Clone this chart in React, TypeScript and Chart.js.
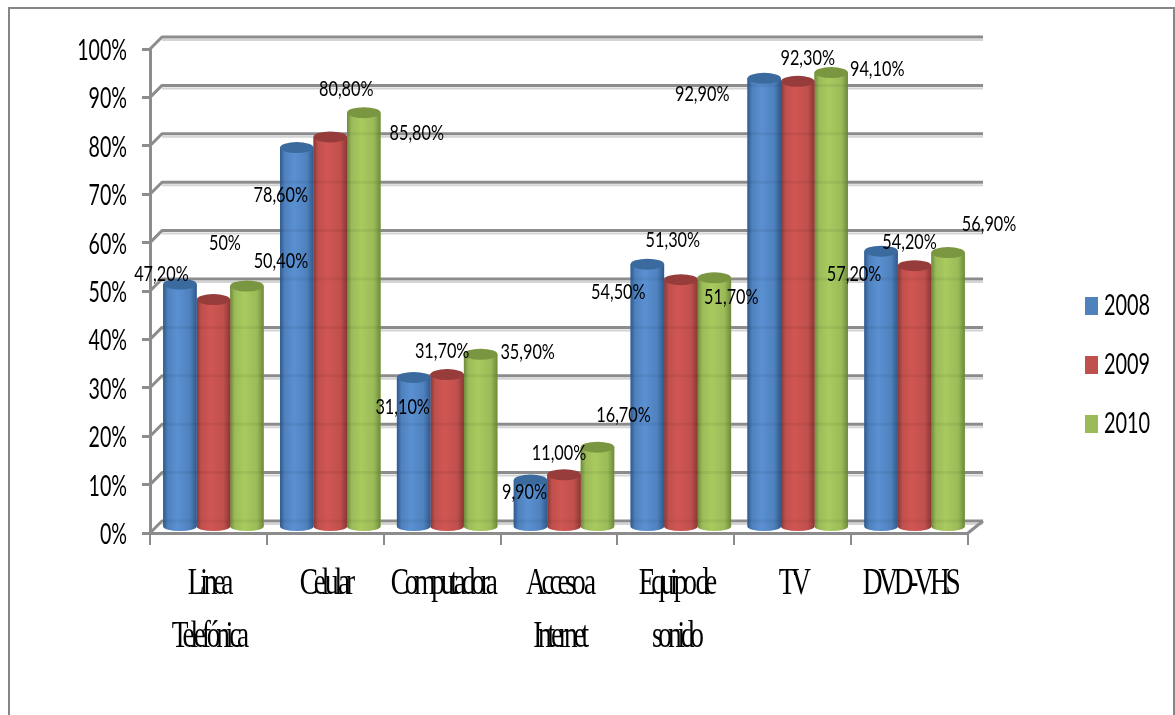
import React, { useEffect, useRef } from "react";
import { Chart, registerables } from "chart.js";

Chart.register(...registerables);

const categories = [
  ["Linea", "Telefónica"],
  "Celular",
  "Computadora",
  ["Acceso a", "Internet"],
  ["Equipo de", "sonido"],
  "TV",
  "DVD-VHS",
];
const series2008 = [50.4, 78.6, 31.1, 9.9, 54.5, 92.9, 57.2];
const series2009 = [47.2, 80.8, 31.7, 11.0, 51.3, 92.3, 54.2];
const series2010 = [50, 85.8, 35.9, 16.7, 51.7, 94.1, 56.9];
const text2008 = ["50,40%", "78,60%", "31,10%", "9,90%", "54,50%", "92,90%", "57,20%"];
const text2009 = ["47,20%", "80,80%", "31,70%", "11,00%", "51,30%", "92,30%", "54,20%"];
const text2010 = ["50%", "85,80%", "35,90%", "16,70%", "51,70%", "94,10%", "56,90%"];

const labelOffsets = [
  [[106, -28], [-11, 42], [-6, 24], [-1, 7], [-24, 23], [-57, 11], [-22, 18]],
  [[-47, -31], [21, -53], [0, -29], [0, -27], [-3, -45], [15, -28], [0, -29]],
  [[-17, -48], [58, 15], [52, -7], [31, -37], [22, 14], [51, -9], [46, -34]],
];
const seriesText = [text2008, text2009, text2010];
const palette = [
  { base: "#4F81BD", edge: "#2F5A8C", light: "#5A90D2", cap: "#3A6A9E" },
  { base: "#C0504D", edge: "#8A3836", light: "#D05653", cap: "#963C3A" },
  { base: "#9BBB59", edge: "#6F8A3C", light: "#A8CA5E", cap: "#7A9640" },
];

const DEPTH_X = 5;
const DEPTH_Y = -5;
const WALL_X = 12;
const WALL_Y = -12;
const GREY = "#8C8C8C";
const SANS = "Lato, sans-serif";

function squeezed(ctx: any, sx: number, spacing: string, draw: () => void, dx = 0) {
  const original = ctx.fillText;
  ctx.fillText = function (text: string, x: number, y: number) {
    ctx.save();
    ctx.translate(x + dx, y);
    ctx.scale(sx, 1);
    ctx.letterSpacing = spacing;
    original.call(ctx, text, 0, 0);
    ctx.restore();
  };
  draw();
  delete ctx.fillText;
}

function squeezeScale(scale: any, sx: number, spacing: string) {
  if (scale.__squeezed) return;
  scale.__squeezed = true;
  const original = scale.drawLabels;
  scale.drawLabels = function (area: any) {
    squeezed(this.ctx, sx, spacing, () => original.call(this, area));
  };
}

const plugin3d = {
  id: "plugin3d",
  beforeLayout(chart: any) {
    const legend = chart.legend;
    if (legend && !legend.__patched) {
      legend.__patched = true;
      const fit = legend.fit;
      legend.fit = function () {
        fit.call(this);
        this.width = 207;
      };
      const draw = legend.draw;
      legend.draw = function () {
        squeezed(this.ctx, 0.71, "0px", () => draw.call(this), -2);
      };
    }
  },
  afterLayout(chart: any) {
    const l = chart.legend;
    const h = l.height;
    l.left = 1091 - l.options.labels.padding;
    l.right = l.left + l.width;
    l.top = 292 - l.options.labels.padding;
    l.bottom = l.top + h;
  },
  beforeDraw(chart: any) {
    const { ctx } = chart;
    ctx.save();
    ctx.fillStyle = "#FFFFFF";
    ctx.fillRect(0, 0, chart.width, chart.height);
    ctx.strokeStyle = "#868686";
    ctx.lineWidth = 2;
    ctx.strokeRect(9, 8, 1165, 800);
    ctx.restore();
  },
  beforeDatasetsDraw(chart: any) {
    const { ctx, chartArea } = chart;
    const y = chart.scales.y;
    ctx.save();
    ctx.lineJoin = "round";
    y.ticks.forEach((t: any) => {
      const py = y.getPixelForValue(t.value);
      ctx.strokeStyle = "#D4D4D4";
      ctx.lineWidth = 2;
      ctx.beginPath();
      ctx.moveTo(chartArea.left + WALL_X, py + WALL_Y + 3);
      ctx.lineTo(chartArea.right + WALL_X + 3, py + WALL_Y + 3);
      ctx.stroke();
      ctx.strokeStyle = GREY;
      ctx.lineWidth = 3;
      ctx.beginPath();
      ctx.moveTo(chartArea.left, py);
      ctx.lineTo(chartArea.left + WALL_X, py + WALL_Y);
      ctx.lineTo(chartArea.right + WALL_X + 3, py + WALL_Y);
      ctx.stroke();
    });
    const py0 = y.getPixelForValue(0);
    ctx.strokeStyle = GREY;
    ctx.lineWidth = 3;
    ctx.beginPath();
    ctx.moveTo(chartArea.right, py0);
    ctx.lineTo(chartArea.right + WALL_X + 3, py0 + WALL_Y);
    ctx.stroke();
    ctx.restore();
  },
  beforeDatasetDraw(chart: any) {
    chart.ctx.save();
    chart.ctx.translate(DEPTH_X, DEPTH_Y);
  },
  afterDatasetDraw(chart: any, args: any) {
    const { ctx } = chart;
    const p = palette[args.index];
    const yScale = chart.scales.y;
    args.meta.data.forEach((bar: any) => {
      const { x, y, base, width } = bar;
      const l = x - width / 2;
      const r = x + width / 2;
      const ry = 5.5;
      const g = ctx.createLinearGradient(l, 0, r, 0);
      g.addColorStop(0, p.edge);
      g.addColorStop(0.14, p.base);
      g.addColorStop(0.42, p.light);
      g.addColorStop(0.8, p.base);
      g.addColorStop(1, p.edge);
      ctx.fillStyle = g;
      ctx.beginPath();
      ctx.moveTo(l, y);
      ctx.lineTo(l, base);
      ctx.ellipse(x, base, width / 2, ry - 1, 0, Math.PI, 0, true);
      ctx.lineTo(r, y);
      ctx.closePath();
      ctx.fill();
      // faint show-through of the wall lines behind the cylinder
      ctx.strokeStyle = "rgba(0,0,0,0.05)";
      ctx.lineWidth = 3;
      yScale.ticks.forEach((t: any) => {
        const py = yScale.getPixelForValue(t.value) + WALL_Y - DEPTH_Y;
        if (py > y + ry && py < base) {
          ctx.beginPath();
          ctx.moveTo(l, py);
          ctx.lineTo(r, py);
          ctx.stroke();
        }
      });
      ctx.fillStyle = p.cap;
      ctx.beginPath();
      ctx.ellipse(x, y, width / 2, ry, 0, 0, Math.PI * 2);
      ctx.fill();
    });
    ctx.restore();
  },
  afterDatasetsDraw(chart: any) {
    const { ctx } = chart;
    ctx.save();
    ctx.fillStyle = "#000000";
    ctx.font = `22px ${SANS}`;
    ctx.textAlign = "center";
    ctx.textBaseline = "middle";
    squeezed(ctx, 0.74, "0px", () => {
      chart.data.datasets.forEach((_: any, i: number) => {
        chart.getDatasetMeta(i).data.forEach((bar: any, j: number) => {
          const [dx, dy] = labelOffsets[i][j];
          ctx.fillText(seriesText[i][j], bar.x + dx, bar.y + dy);
        });
      });
    });
    ctx.restore();
  },
};

export default function App() {
  const ref = useRef<HTMLCanvasElement>(null);
  useEffect(() => {
    const chart = new Chart(ref.current as HTMLCanvasElement, {
      type: "bar",
      data: {
        labels: categories,
        datasets: [
          { label: "2008", data: series2008, backgroundColor: palette[0].base },
          { label: "2009", data: series2009, backgroundColor: palette[1].base },
          { label: "2010", data: series2010, backgroundColor: palette[2].base },
        ],
      },
      options: {
        responsive: false,
        animation: false,
        layout: { padding: { top: 49, left: 0, right: 0, bottom: 0 } },
        datasets: { bar: { categoryPercentage: 0.86, barPercentage: 1 } },
        plugins: {
          title: { display: false },
          tooltip: { enabled: false },
          legend: {
            position: "right",
            align: "start",
            labels: {
              boxWidth: 1,
              boxHeight: 6,
              padding: 31,
              color: "#000000",
              font: { family: SANS, size: 28 },
              generateLabels(chart: any) {
                return Chart.defaults.plugins.legend.labels
                  .generateLabels(chart)
                  .map((item: any) => ({ ...item, lineWidth: 12, strokeStyle: item.fillStyle }));
              },
            },
          },
        },
        scales: {
          x: {
            afterFit(scale: any) {
              scale.height = 182;
              squeezeScale(scale, 0.72, "-5.8px");
            },
            border: { color: GREY, width: 3 },
            grid: { drawOnChartArea: false, color: GREY, lineWidth: 2, tickLength: 12, offset: true },
            ticks: {
              color: "#000000",
              padding: 13,
              maxRotation: 0,
              autoSkip: false,
              font: { family: '"Liberation Serif", serif', size: 38, lineHeight: "53px" },
            },
          },
          y: {
            min: 0,
            max: 100,
            afterFit(scale: any) {
              scale.width = 150;
              squeezeScale(scale, 0.7, "0px");
            },
            border: { color: GREY, width: 3 },
            grid: { drawOnChartArea: false, color: GREY, lineWidth: 3, tickLength: 8 },
            ticks: {
              stepSize: 10,
              color: "#000000",
              padding: 15,
              labelOffset: 2,
              font: { family: SANS, size: 28 },
              callback: (v: any) => `${v}%`,
            },
          },
        },
      },
      plugins: [plugin3d],
    } as any);
    return () => chart.destroy();
  }, []);
  return (
    <div style={{ position: "absolute", left: 0, top: 0, width: 1175, height: 715, overflow: "hidden" }}>
      <canvas ref={ref} width={1175} height={715} style={{ display: "block" }} />
    </div>
  );
}
